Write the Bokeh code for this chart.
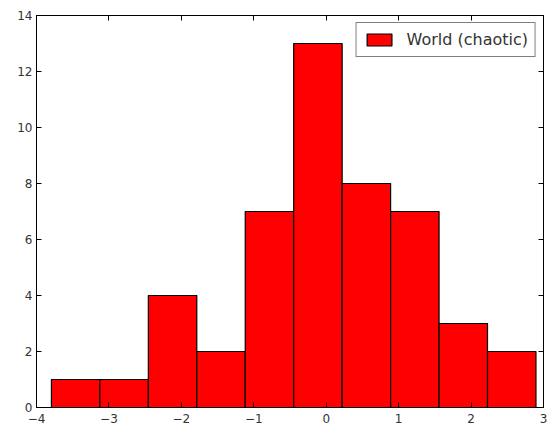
from bokeh.plotting import figure
from bokeh.models import (Range1d, LinearAxis, FixedTicker, Legend, LegendItem,
                          ColumnDataSource, CustomJSTickFormatter)
from bokeh.embed import file_html
from bokeh.resources import INLINE

# Histogram data
bin_edges = [-3.794, -3.125, -2.456, -1.787, -1.118, -0.449, 0.220, 0.889, 1.558, 2.227, 2.896]
counts = [1, 1, 4, 2, 7, 13, 8, 7, 3, 2]
series_label = "World (chaotic)"

x_ticks = [-4, -3, -2, -1, 0, 1, 2, 3]
x_tick_labels = ["\u22124", "\u22123", "\u22122", "\u22121", "0", "1", "2", "3"]
y_ticks = [0, 2, 4, 6, 8, 10, 12, 14]
y_tick_labels = ["0", "2", "4", "6", "8", "10", "12", "14"]

FONT = "DejaVu Sans"

p = figure(width=548, height=425, output_backend="svg", toolbar_location=None,
           x_range=Range1d(-4, 3), y_range=Range1d(0, 14),
           x_axis_location="below", y_axis_location="left")
p.min_border_left = 36
p.min_border_right = 5
p.min_border_top = 15
p.min_border_bottom = 17
p.background_fill_color = "white"
p.border_fill_color = "white"
p.outline_line_color = "black"
p.outline_line_width = 1
p.grid.visible = False

src = ColumnDataSource(dict(left=bin_edges[:-1], right=bin_edges[1:], top=counts,
                            bottom=[0] * len(counts)))
r = p.quad(left="left", right="right", top="top", bottom="bottom", source=src,
           fill_color="#ff0000", line_color="black", line_width=1.2)

def style_axis(ax, labels, show_labels=True):
    ax.axis_line_color = "black"
    ax.axis_line_width = 1
    ax.major_tick_in = 5
    ax.major_tick_out = 0
    ax.major_tick_line_color = "black"
    ax.major_tick_line_width = 1
    ax.minor_tick_line_color = None
    ax.major_label_text_font = FONT
    ax.major_label_text_color = "#333333"
    if show_labels:
        ax.major_label_text_font_size = "12px"
        ax.major_label_overrides = labels
    else:
        ax.formatter = CustomJSTickFormatter(code="return ''")
        ax.major_label_standoff = 0

xlab = {t: l for t, l in zip(x_ticks, x_tick_labels)}
ylab = {t: l for t, l in zip(y_ticks, y_tick_labels)}

p.xaxis.ticker = FixedTicker(ticks=x_ticks)
p.yaxis.ticker = FixedTicker(ticks=y_ticks)
style_axis(p.xaxis[0], xlab)
style_axis(p.yaxis[0], ylab)
p.xaxis.major_label_standoff = 6
p.yaxis.major_label_standoff = 4

top_ax = LinearAxis(ticker=FixedTicker(ticks=x_ticks))
right_ax = LinearAxis(ticker=FixedTicker(ticks=y_ticks))
style_axis(top_ax, xlab, show_labels=False)
style_axis(right_ax, ylab, show_labels=False)
p.add_layout(top_ax, "above")
p.add_layout(right_ax, "right")

legend = Legend(items=[LegendItem(label=series_label, renderers=[r])],
                location="top_right")
legend.margin = 7
legend.padding = 7
legend.spacing = 0
legend.glyph_width = 31
legend.glyph_height = 15
legend.label_height = 16
legend.label_standoff = 12
legend.label_text_font = FONT
legend.label_text_font_size = "16px"
legend.label_text_color = "#333333"
legend.border_line_color = "black"
legend.border_line_width = 1
legend.background_fill_color = "white"
legend.background_fill_alpha = 1
p.add_layout(legend, "center")

open("out.html", "w").write(file_html(p, INLINE))
